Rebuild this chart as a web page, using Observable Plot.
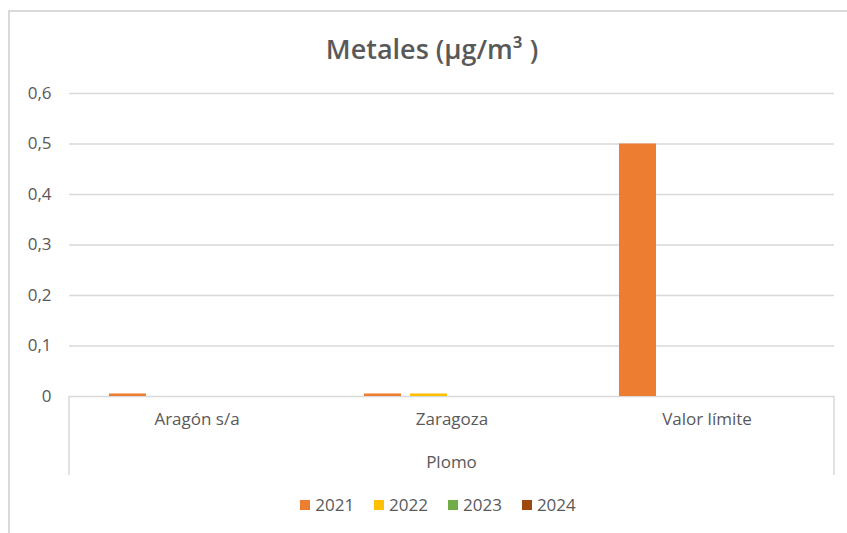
<!DOCTYPE html>
<html>
<head>
<meta charset="utf-8">
<script src="https://cdn.jsdelivr.net/npm/d3@7"></script>
<script src="https://cdn.jsdelivr.net/npm/@observablehq/plot@0.6"></script>
<style>
  body { margin: 0; background: #fff; }
  #wrap { position: relative; width: 847px; height: 533px; overflow: hidden; background: #fff; font-family: "Open Sans", sans-serif; color: #595959; }
  #chart { position: absolute; left: 0; top: 0; }
  #border { position: absolute; left: 8px; top: 10px; width: 900px; height: 600px; border: 2px solid #d9d9d9; box-sizing: border-box; }
  #title { position: absolute; left: 0; width: 864px; top: 30px; text-align: center; font-size: 27px; font-weight: 600; color: #595959; line-height: 38px; }
  #plomo { position: absolute; left: 0; width: 903px; top: 450px; text-align: center; font-size: 17px; line-height: 24px; }
  #legend { position: absolute; left: 0; width: 876px; top: 493px; display: flex; justify-content: center; font-size: 17px; line-height: 24px; }
  .item { display: flex; align-items: center; margin: 0 10px; }
  .sw { width: 10px; height: 10px; margin-right: 5px; }
</style>
</head>
<body>
<div id="wrap">
  <div id="chart"></div>
  <div id="border"></div>
  <div id="title">Metales (µg/m³ )</div>
  <div id="plomo">Plomo</div>
  <div id="legend"></div>
</div>
<script>
const categories = ["Aragón s/a", "Zaragoza", "Valor límite"];
const years = ["2021", "2022", "2023", "2024"];
const colors = ["#ED7D31", "#FFC000", "#70AD47", "#9E480E"];
const v2021 = [0.005, 0.005, 0.5];
const v2022 = [0, 0.005, 0];
const v2023 = [0, 0, 0];
const v2024 = [0, 0, 0];
const yTicks = [0, 0.1, 0.2, 0.3, 0.4, 0.5, 0.6];

const series = [v2021, v2022, v2023, v2024];
const data = [];
categories.forEach((c, i) => {
  years.forEach((yr, j) => data.push({cat: c, year: yr, value: series[j][i]}));
});

const fmt = d => d === 0 ? "0" : d.toFixed(1).replace(".", ",");

const chart = Plot.plot({
  width: 847,
  height: 533,
  marginTop: 93,
  marginBottom: 137,
  marginLeft: 68,
  marginRight: 12,
  style: {background: "transparent", fontFamily: "Open Sans, sans-serif", fontSize: "17px", color: "#595959"},
  fx: {domain: categories, padding: 0},
  x: {domain: years, axis: null, paddingInner: 0.2, paddingOuter: 0.85},
  y: {domain: [0, 0.6]},
  color: {domain: years, range: colors},
  marks: [
    Plot.gridY(yTicks, {stroke: "#d9d9d9", strokeOpacity: 1, strokeWidth: 1.3}),
    Plot.barY(data, {fx: "cat", x: "year", y: "value", fill: "year"}),
    Plot.axisY(yTicks, {tickSize: 0, tickPadding: 18, tickFormat: fmt, fontSize: 17, label: null}),
    Plot.axisFx({anchor: "bottom", tickSize: 0, tickPadding: 16, label: null, fontSize: 17})
  ]
});
document.getElementById("chart").appendChild(chart);

// category group box lines (left and right edges of the outer "Plomo" level)
const fxs = chart.scale("fx");
const ys = chart.scale("y");
const y0 = ys.apply(0);
const svg = d3.select(chart);
const left = fxs.apply(categories[0]);
const right = fxs.apply(categories[categories.length - 1]) + fxs.bandwidth;
[left, right].forEach(x => {
  svg.append("line").attr("x1", x).attr("x2", x).attr("y1", y0).attr("y2", y0 + 79)
    .attr("stroke", "#d9d9d9").attr("stroke-width", 1.5);
});

// legend
const leg = d3.select("#legend");
years.forEach((yr, j) => {
  const it = leg.append("div").attr("class", "item");
  it.append("div").attr("class", "sw").style("background", colors[j]);
  it.append("span").text(yr);
});
</script>
</body>
</html>
